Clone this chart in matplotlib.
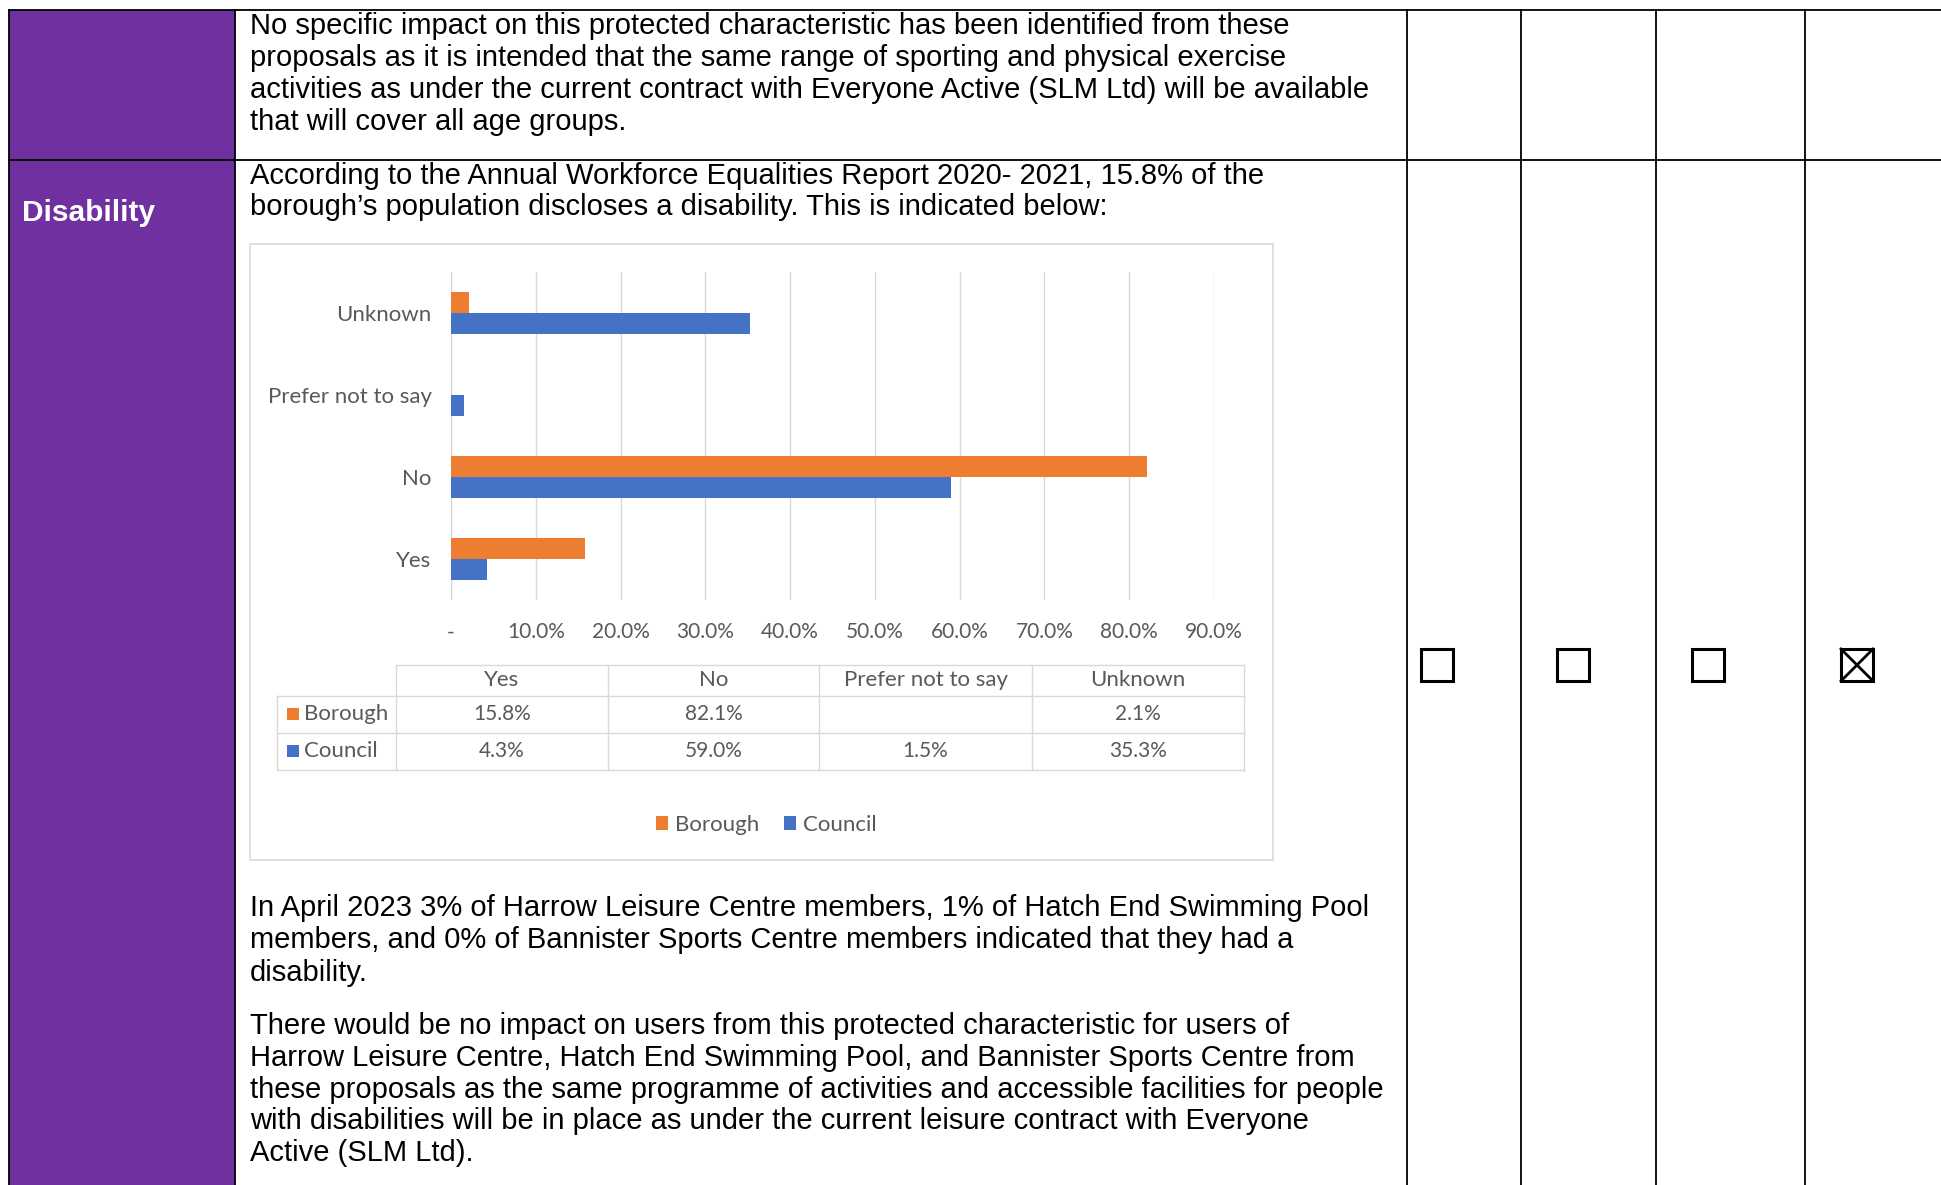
import numpy as np
import matplotlib
matplotlib.use('Agg')
import matplotlib.pyplot as plt
from matplotlib.patches import Rectangle

# chart data (percent)
categories = ['Yes', 'No', 'Prefer not to say', 'Unknown']
borough = [15.8, 82.1, np.nan, 2.1]
council = [4.3, 59.0, 1.5, 35.3]
series_names = ['Borough', 'Council']
x_ticks = [0, 10, 20, 30, 40, 50, 60, 70, 80, 90]

# document text
row1_lines = [
    "No specific impact on this protected characteristic has been identified from these",
    "proposals as it is intended that the same range of sporting and physical exercise",
    "activities as under the current contract with Everyone Active (SLM Ltd) will be available",
    "that will cover all age groups.",
]
intro_lines = [
    "According to the Annual Workforce Equalities Report 2020- 2021, 15.8% of the",
    "borough\u2019s population discloses a disability. This is indicated below:",
]
para2_lines = [
    "In April 2023 3% of Harrow Leisure Centre members, 1% of Hatch End Swimming Pool",
    "members, and 0% of Bannister Sports Centre members indicated that they had a",
    "disability.",
]
para3_lines = [
    "There would be no impact on users from this protected characteristic for users of",
    "Harrow Leisure Centre, Hatch End Swimming Pool, and Bannister Sports Centre from",
    "these proposals as the same programme of activities and accessible facilities for people",
    "with disabilities will be in place as under the current leisure contract with Everyone",
    "Active (SLM Ltd).",
]
checked = [False, False, False, True]

ORANGE = '#ED7D31'
BLUE = '#4472C4'
PURPLE = '#7030A0'
GRID = '#D9D9D9'
CHART_TXT = '#595959'

plt.rcParams['font.family'] = ['Liberation Sans', 'DejaVu Sans']
W, H = 1941, 1185
fig = plt.figure(figsize=(W / 100, H / 100), dpi=100)

# background "page" axes in pixel coords
bg = fig.add_axes([0, 0, 1, 1])
bg.set_xlim(0, W)
bg.set_ylim(H, 0)
bg.axis('off')

bg.add_patch(Rectangle((9, 10), 226, H, facecolor=PURPLE, edgecolor='none'))
lw = 1.3
bg.plot([9, W], [10, 10], color='black', lw=lw)
bg.plot([9, W], [160, 160], color='black', lw=lw)
for xv in [9, 235, 1407, 1521, 1656, 1805]:
    bg.plot([xv, xv], [10, H], color='black', lw=lw)

body_fs = 21
for i, line in enumerate(row1_lines):
    bg.text(250, 26 + 32 * i, line, fontsize=body_fs, va='center', ha='left')
for i, line in enumerate(intro_lines):
    bg.text(250, 176 + 31 * i, line, fontsize=body_fs, va='center', ha='left')
for i, line in enumerate(para2_lines):
    bg.text(250, 908 + 32.5 * i, line, fontsize=body_fs, va='center', ha='left')
for i, line in enumerate(para3_lines):
    bg.text(250, 1026 + 31.8 * i, line, fontsize=body_fs, va='center', ha='left')

bg.text(22, 213, 'Disability', fontsize=21.5, fontweight='bold', color='white',
        va='center', ha='left')

# checkboxes
box_x = [1437, 1573, 1708, 1857]
for bx, on in zip(box_x, checked):
    bg.add_patch(Rectangle((bx - 16, 665 - 16), 32, 32, facecolor='none',
                           edgecolor='black', lw=2.2))
    if on:
        bg.plot([bx - 16, bx + 16], [665 - 16, 665 + 16], color='black', lw=2)
        bg.plot([bx - 16, bx + 16], [665 + 16, 665 - 16], color='black', lw=2)

# chart frame
bg.add_patch(Rectangle((250, 244), 1023, 616, facecolor='white',
                       edgecolor=GRID, lw=1.2))

# data table under the chart
col_edges = [396, 608, 819, 1032, 1244]
row_edges = [665, 696, 733, 770]
tcol = '#D9D9D9'
bg.plot([396, 1244], [665, 665], color=tcol, lw=1)
for yv in row_edges[1:]:
    bg.plot([277, 1244], [yv, yv], color=tcol, lw=1)
for xv in col_edges:
    bg.plot([xv, xv], [665, 770], color=tcol, lw=1)
bg.plot([277, 277], [696, 770], color=tcol, lw=1)

fam = ['Lato', 'DejaVu Sans']
cfont = dict(family=fam, color=CHART_TXT, fontsize=16)
nfont = dict(family=fam, color=CHART_TXT, fontsize=15)
for j, cat in enumerate(categories):
    cx = (col_edges[j] + col_edges[j + 1]) / 2
    bg.text(cx, 680, cat, ha='center', va='center', **cfont)
    for r, vals in enumerate([borough, council]):
        v = vals[j]
        if not np.isnan(v):
            bg.text(cx, [714, 751][r], f'{v:.1f}%', ha='center', va='center', **nfont)
for r, (name, colr) in enumerate(zip(series_names, [ORANGE, BLUE])):
    yc = [714, 751][r]
    bg.add_patch(Rectangle((287, yc - 6), 12, 12, facecolor=colr, edgecolor='none'))
    bg.text(304, yc, name, ha='left', va='center', **cfont)

# the bar chart itself
ax = fig.add_axes([451 / W, 1 - 600 / H, (1214 - 451) / W, (600 - 272) / H])
ax.set_facecolor('none')
y = np.arange(len(categories))
h = 0.255
ax.barh(y + h / 2, borough, height=h, color=ORANGE, label='Borough', zorder=3)
ax.barh(y - h / 2, council, height=h, color=BLUE, label='Council', zorder=3)
ax.set_xlim(0, 90)
ax.set_ylim(-0.5, 3.5)
ax.set_xticks(x_ticks)
ax.set_xticklabels(['-' if t == 0 else f'{t:.1f}%' for t in x_ticks],
                   family=fam, color=CHART_TXT, fontsize=15)
ax.set_yticks(y)
ax.set_yticklabels(categories, family=fam, color=CHART_TXT, fontsize=16)
ax.tick_params(axis='x', length=0, pad=16)
ax.tick_params(axis='y', length=0, pad=14)
ax.grid(axis='x', color=GRID, lw=1, zorder=0)
for s in ax.spines.values():
    s.set_visible(False)
ax.axvline(0, color=GRID, lw=1, zorder=1)

leg = ax.legend(loc='center', bbox_to_anchor=(0.413, -0.685), ncol=2, frameon=False,
                prop=dict(family=fam, size=16),
                handlelength=0.55, handleheight=0.55, handletextpad=0.3, columnspacing=1.1)
for t in leg.get_texts():
    t.set_color(CHART_TXT)

fig.savefig('out.png', dpi=100)
